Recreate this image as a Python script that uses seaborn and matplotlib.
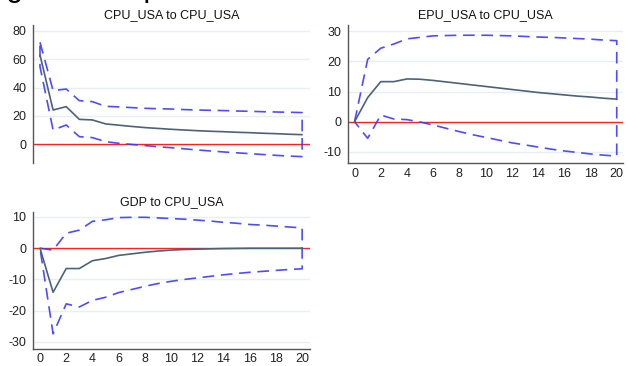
import matplotlib
matplotlib.use("Agg")
import matplotlib.pyplot as plt
import seaborn as sns
import numpy as np
import pandas as pd

# ---- data ----
steps = list(range(21))

titles = ["CPU_USA to CPU_USA", "EPU_USA to CPU_USA", "GDP to CPU_USA"]

cpu_irf = [63, 24.2, 26.6, 17.6, 17.2, 14.4, 13.5, 12.6, 11.8, 11.2, 10.6, 10.1, 9.6, 9.2, 8.9, 8.5, 8.2, 7.8, 7.5, 7.1, 6.8]
cpu_upper = [72, 37.9, 39, 30.8, 30.1, 26.8, 26.4, 25.9, 25.4, 25.1, 24.9, 24.5, 24.2, 24.0, 23.8, 23.5, 23.3, 23.0, 22.8, 22.6, 22.4]
cpu_lower = [54.8, 10.1, 13.6, 5.4, 4.7, 1.9, 0.7, -0.1, -0.9, -1.7, -2.4, -3.2, -4.0, -4.7, -5.4, -6.0, -6.6, -7.2, -7.8, -8.3, -8.7]

epu_irf = [0, 8.0, 13.3, 13.3, 14.2, 14.1, 13.7, 13.2, 12.7, 12.2, 11.7, 11.2, 10.7, 10.2, 9.7, 9.3, 8.9, 8.5, 8.2, 7.8, 7.5]
epu_upper = [0, 20.7, 24.4, 25.8, 27.5, 28.0, 28.5, 28.6, 28.7, 28.7, 28.7, 28.6, 28.5, 28.3, 28.1, 28.0, 27.8, 27.6, 27.4, 27.1, 26.9]
epu_lower = [0, -5.5, 2.2, 0.9, 0.7, -0.1, -1.1, -2.2, -3.3, -4.3, -5.2, -6.1, -7.0, -7.7, -8.4, -9.1, -9.7, -10.2, -10.7, -11.1, -11.4]

gdp_irf = [0, -14.1, -6.5, -6.5, -4.0, -3.3, -2.3, -1.8, -1.3, -0.9, -0.6, -0.4, -0.3, -0.2, -0.1, -0.05, 0, 0, 0, 0, 0]
gdp_upper = [0, -0.6, 4.8, 5.8, 8.6, 9.1, 9.8, 9.9, 9.9, 9.7, 9.5, 9.3, 9.0, 8.7, 8.3, 8.0, 7.6, 7.4, 7.1, 6.8, 6.5]
gdp_lower = [0, -27.4, -17.8, -18.8, -16.7, -15.7, -14.2, -13.2, -12.2, -11.3, -10.6, -10.0, -9.5, -9.0, -8.5, -8.1, -7.7, -7.4, -7.1, -6.8, -6.6]

x_ticks = [0, 2, 4, 6, 8, 10, 12, 14, 16, 18, 20]
cpu_yticks = [0, 20, 40, 60, 80]
epu_yticks = [-10, 0, 10, 20, 30]
gdp_yticks = [-30, -20, -10, 0, 10]

header_text = "Figure 3: Impulse"

# ---- style ----
sns.set_theme(style="white")
plt.rcParams["font.family"] = ["Liberation Sans", "DejaVu Sans"]

LINE_C = "#4d6279"
CI_C = "#3a3aff"
ZERO_C = "#ff2020"
GRID_C = "#e6eff1"
AX_C = "#555555"

fig = plt.figure(figsize=(6.28, 3.66), dpi=100)
W, H = 628, 366

def axes_px(left, top, right, bottom):
    return fig.add_axes([left / W, 1 - bottom / H, (right - left) / W, (bottom - top) / H])

panels = [
    dict(box=(33.3, 25, 310, 163), xlim=(-0.51, 20.6), ylim=(-13.2, 84.2), yt=cpu_yticks,
         irf=cpu_irf, up=cpu_upper, lo=cpu_lower, title=titles[0], showx=False),
    dict(box=(348, 25, 623.3, 163.3), xlim=(-0.5, 20.5), ylim=(-13.8, 32.1), yt=epu_yticks,
         irf=epu_irf, up=epu_upper, lo=epu_lower, title=titles[1], showx=True),
    dict(box=(33.3, 212, 310, 348.5), xlim=(-0.51, 20.6), ylim=(-32.1, 11.6), yt=gdp_yticks,
         irf=gdp_irf, up=gdp_upper, lo=gdp_lower, title=titles[2], showx=True),
]

for p in panels:
    ax = axes_px(*p["box"])
    ax.set_facecolor("white")
    # gridlines
    for yv in p["yt"]:
        if yv != 0:
            ax.axhline(yv, color=GRID_C, lw=1.0, zorder=0)
    # confidence band outline (closed polygon)
    poly_x = steps + steps[::-1] + [steps[0]]
    poly_y = p["up"] + p["lo"][::-1] + [p["up"][0]]
    sns.lineplot(x=poly_x, y=poly_y, sort=False, estimator=None, ax=ax,
                 color=CI_C, lw=1.2, dashes=False, zorder=3)
    ax.lines[-1].set_dashes([7, 4])
    ax.lines[-1].set_alpha(0.9)
    # zero line
    ax.axhline(0, color=ZERO_C, lw=1.0, zorder=2)
    # irf
    sns.lineplot(x=steps, y=p["irf"], ax=ax, color=LINE_C, lw=1.2, zorder=4)
    ax.set_xlim(*p["xlim"])
    ax.set_ylim(*p["ylim"])
    ax.set_yticks(p["yt"])
    ax.set_yticklabels([str(v) for v in p["yt"]], fontsize=9, color="#222222")
    for s in ["top", "right"]:
        ax.spines[s].set_visible(False)
    ax.spines["left"].set_color(AX_C)
    ax.spines["left"].set_linewidth(1.0)
    ax.tick_params(axis="y", direction="out", length=4, width=0.8, color=AX_C, pad=1)
    if p["showx"]:
        ax.set_xticks(x_ticks)
        ax.set_xticklabels([str(v) for v in x_ticks], fontsize=9, color="#222222")
        ax.spines["bottom"].set_color(AX_C)
        ax.spines["bottom"].set_linewidth(1.0)
        ax.tick_params(axis="x", direction="out", length=3, width=0.8, color=AX_C, pad=0.5)
    else:
        ax.set_xticks([])
        ax.spines["bottom"].set_visible(False)
    ax.set_xlabel("")
    ax.set_ylabel("")
    ax.set_title(p["title"], fontsize=9, color="#111111", pad=5)

# cropped large header text at the very top (only descenders visible, as in the reference)
fig.text(-0.03, 1.0 + 0.011, header_text, fontsize=22, color="#000000",
         ha="left", va="baseline")

fig.savefig("out.png", dpi=100)
